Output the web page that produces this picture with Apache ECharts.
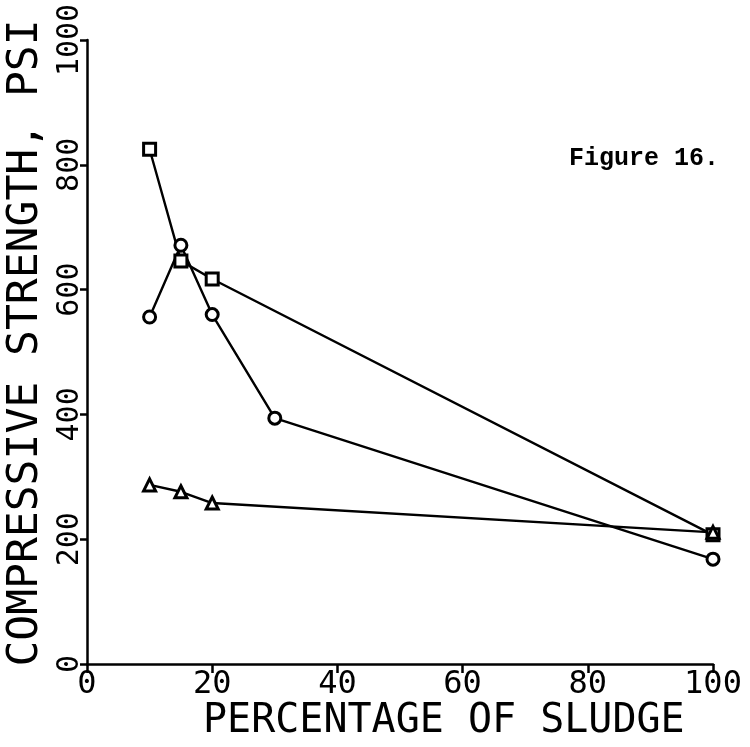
<!DOCTYPE html>
<html>
<head>
<meta charset="utf-8">
<script src="https://cdn.jsdelivr.net/npm/echarts@6/dist/echarts.min.js"></script>
<style>
  html, body { margin: 0; padding: 0; background: #fff; }
  #main { width: 750px; height: 747px; }
</style>
</head>
<body>
<div id="main"></div>
<script>
// percentage of sludge (x)
var xSquare = [10, 15, 20, 100];
var ySquare = [825, 646, 617, 207];
var xCircle = [10, 15, 20, 30, 100];
var yCircle = [556, 671, 560, 394, 168];
var xTriangle = [10, 15, 20, 100];
var yTriangle = [287, 276, 258, 211];

var xTicks = [0, 20, 40, 60, 80, 100];
var yTicks = [0, 200, 400, 600, 800, 1000];

function pairs(xs, ys) {
  return xs.map(function (x, i) { return [x, ys[i]]; });
}

var font = 'DejaVu Sans Mono';
var chart = echarts.init(document.getElementById('main'));

// one line of marks, black outline on white
function series(name, sym, data) {
  return {
    name: name,
    type: 'line',
    data: data,
    symbol: sym,
    symbolSize: 12,
    lineStyle: { color: '#000', width: 2.4 },
    itemStyle: { color: '#fff', borderColor: '#000', borderWidth: 3 },
    z: 3
  };
}

chart.setOption({
  backgroundColor: '#fff',
  animation: false,
  grid: { left: 87, right: 37, top: 40, bottom: 83, outerBoundsMode: 'none', containLabel: false },
  xAxis: {
    type: 'value',
    min: 0, max: 100, interval: 20,
    axisLine: { lineStyle: { color: '#000', width: 2.5 } },
    axisTick: { show: true, length: 9, lineStyle: { color: '#000', width: 2.5 } },
    axisLabel: { color: '#000', fontFamily: font, fontSize: 32, margin: 5,
      formatter: function (v) { return xTicks.indexOf(v) >= 0 ? String(v) : ''; } },
    splitLine: { show: false }
  },
  yAxis: {
    type: 'value',
    min: 0, max: 1000, interval: 200,
    name: 'COMPRESSIVE STRENGTH, PSI',
    nameLocation: 'middle',
    nameGap: 12,
    nameRotate: 90,
    nameTextStyle: { color: '#000', fontFamily: font, fontSize: 43, padding: [0, 0, 0, 18] },
    axisLine: { lineStyle: { color: '#000', width: 2.5 } },
    axisTick: { show: true, length: 7, lineStyle: { color: '#000', width: 2.5 } },
    axisLabel: { color: '#000', fontFamily: font, fontSize: 30, rotate: 90, margin: 2,
      formatter: function (v) { return yTicks.indexOf(v) >= 0 ? String(v) : ''; } },
    splitLine: { show: false }
  },
  graphic: [
    {
      type: 'text', left: 203, top: 702,
      style: { text: 'PERCENTAGE OF SLUDGE', font: '40px "DejaVu Sans Mono"', fill: '#000' }
    },
    {
      type: 'text', left: 569, top: 146,
      style: { text: 'Figure 16.', font: 'bold 25px "Liberation Mono"', fill: '#000' }
    }
  ],
  series: [
    series('square', 'rect', pairs(xSquare, ySquare)),
    series('circle', 'circle', pairs(xCircle, yCircle)),
    series('triangle', 'triangle', pairs(xTriangle, yTriangle))
  ]
});
</script>
</body>
</html>
